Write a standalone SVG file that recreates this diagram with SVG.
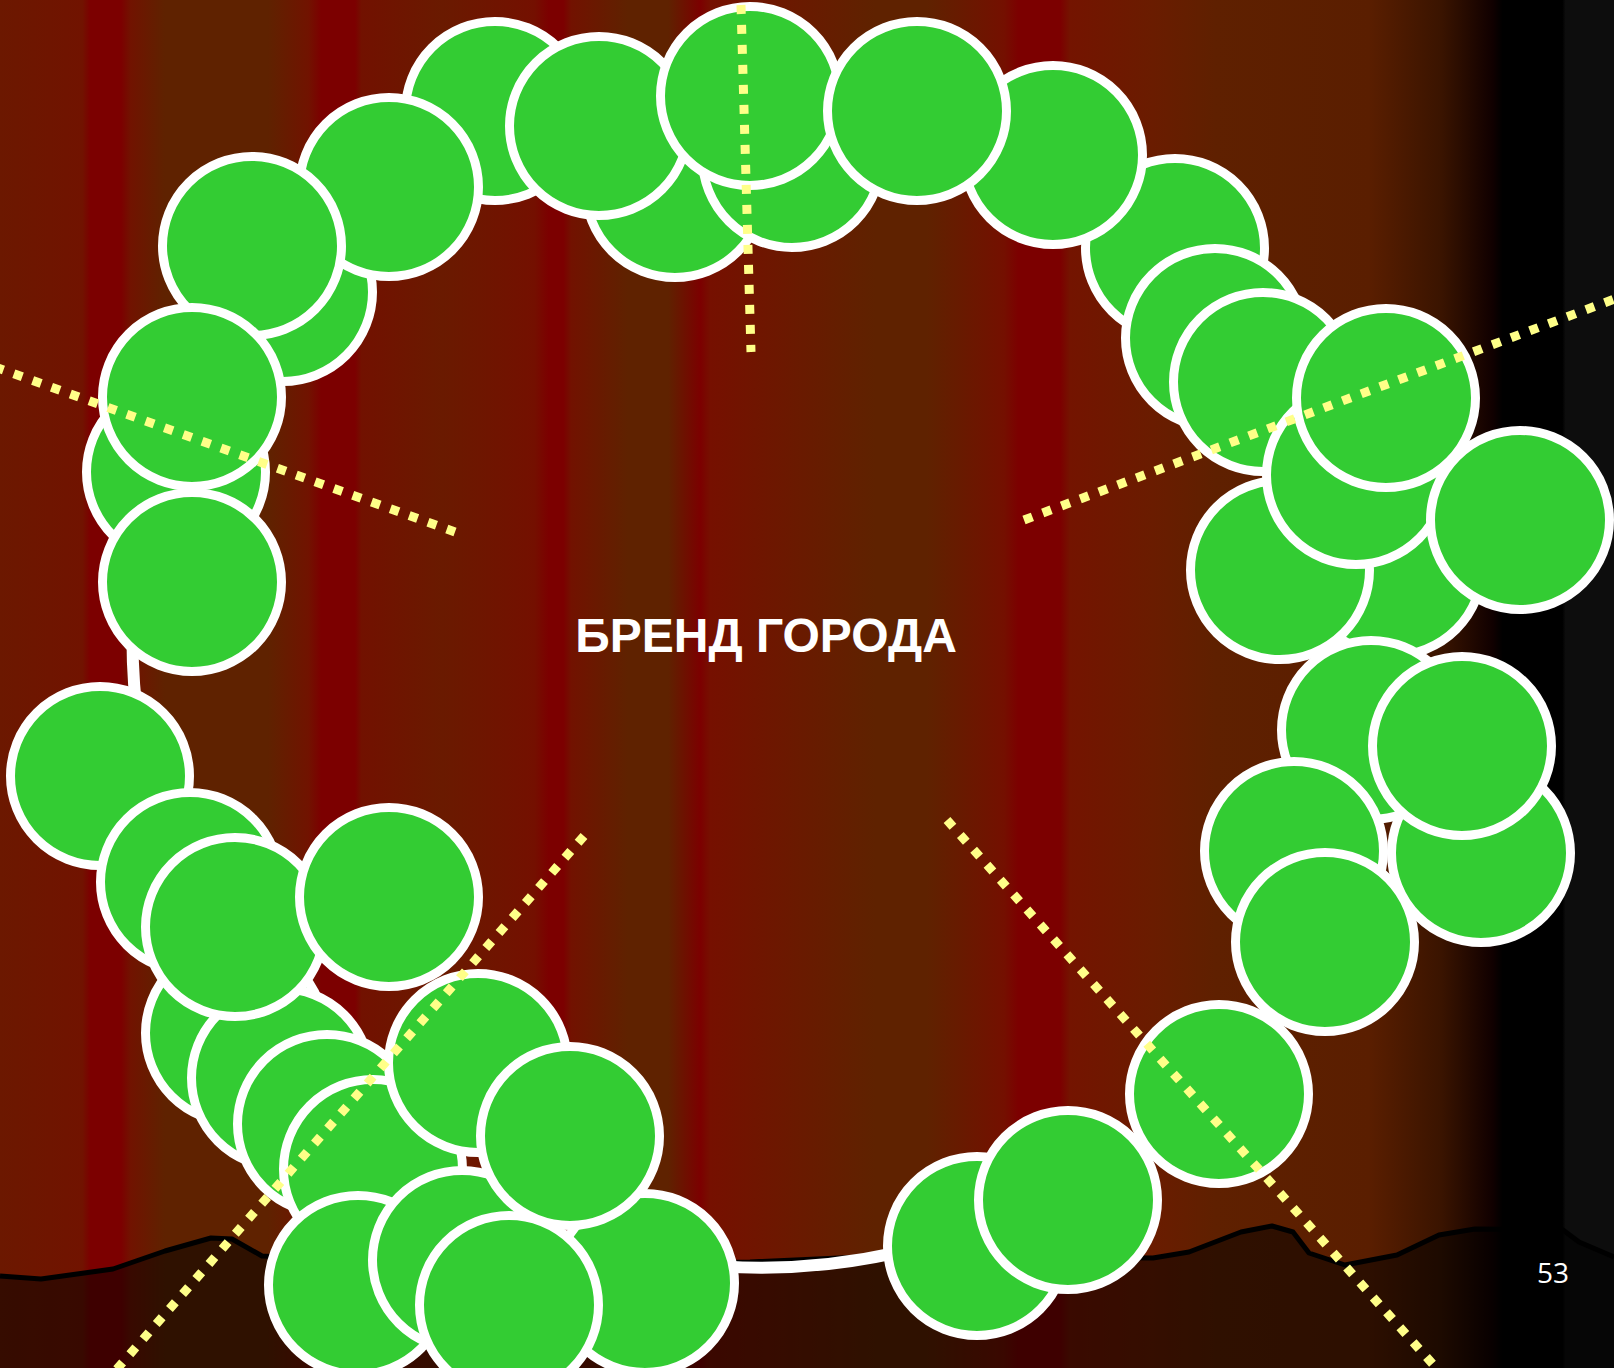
<svg xmlns="http://www.w3.org/2000/svg" width="1614" height="1368" viewBox="0 0 1614 1368">
<defs>
<linearGradient id="bg" x1="0" y1="0" x2="1614" y2="0" gradientUnits="userSpaceOnUse">
<stop offset="0" stop-color="#6c1800"/>
<stop offset="0.051" stop-color="#711300"/>
<stop offset="0.056" stop-color="#7c0000"/>
<stop offset="0.075" stop-color="#7c0000"/>
<stop offset="0.081" stop-color="#711300"/>
<stop offset="0.102" stop-color="#5f2200"/>
<stop offset="0.166" stop-color="#5f2200"/>
<stop offset="0.191" stop-color="#711300"/>
<stop offset="0.199" stop-color="#7c0000"/>
<stop offset="0.220" stop-color="#7c0000"/>
<stop offset="0.224" stop-color="#721100"/>
<stop offset="0.274" stop-color="#6a1a00"/>
<stop offset="0.331" stop-color="#741000"/>
<stop offset="0.340" stop-color="#7c0000"/>
<stop offset="0.349" stop-color="#7c0000"/>
<stop offset="0.354" stop-color="#721200"/>
<stop offset="0.389" stop-color="#5f2200"/>
<stop offset="0.414" stop-color="#5f2200"/>
<stop offset="0.434" stop-color="#7c0000"/>
<stop offset="0.440" stop-color="#761000"/>
<stop offset="0.485" stop-color="#6c1800"/>
<stop offset="0.542" stop-color="#5f2200"/>
<stop offset="0.574" stop-color="#5f2200"/>
<stop offset="0.622" stop-color="#741000"/>
<stop offset="0.631" stop-color="#7c0000"/>
<stop offset="0.657" stop-color="#7c0000"/>
<stop offset="0.663" stop-color="#741400"/>
<stop offset="0.714" stop-color="#6a1c00"/>
<stop offset="0.753" stop-color="#5f2000"/>
<stop offset="0.848" stop-color="#5a1e00"/>
<stop offset="0.893" stop-color="#3a1400"/>
<stop offset="0.925" stop-color="#100000"/>
<stop offset="0.931" stop-color="#000000"/>
<stop offset="0.968" stop-color="#000000"/>
<stop offset="0.970" stop-color="#0d0d0d"/>
<stop offset="1" stop-color="#0d0d0d"/>
</linearGradient>
<style>
.c{fill:#33cc33;stroke:#ffffff;stroke-width:9}
.dot{fill:none;stroke:#ffff88;stroke-width:9;stroke-dasharray:9 11}
.lbl{font-family:"Liberation Sans",Arial,sans-serif;font-weight:bold;fill:#ffffff}
.num{font-family:"Open Sans","Liberation Sans",sans-serif;fill:#ffffff}
</style>
</defs>
<g id="background">
<rect x="0" y="0" width="1614" height="1368" fill="url(#bg)"/>
<path id="ground" d="M0,1276 L41,1279 L113,1269 L165,1251 L211,1238 L232,1239 L262,1256 L500,1264 L750,1262 L883,1256 L1153,1258 L1189,1252 L1241,1232 L1272,1226 L1293,1232 L1309,1253 L1345,1265 L1397,1255 L1439,1235 L1475,1229 L1563,1230 L1579,1242 L1614,1257 L1614,1368 L0,1368 Z" fill="#000000" fill-opacity="0.5"/>
<path d="M0,1276 L41,1279 L113,1269 L165,1251 L211,1238 L232,1239 L262,1256 L500,1264 L750,1262 L883,1256 L1153,1258 L1189,1252 L1241,1232 L1272,1226 L1293,1232 L1309,1253 L1345,1265 L1397,1255 L1439,1235 L1475,1229 L1563,1230 L1579,1242 L1614,1257" fill="none" stroke="#000000" stroke-width="5" stroke-linejoin="round"/>
</g>
<g id="ring">
<path d="M142,531 A628,628 0 0 0 1241,1044" fill="none" stroke="#ffffff" stroke-width="12"/>
</g>
<g id="circles">
<circle id="A" class="c" cx="495" cy="111" r="89.5"/>
<circle id="C" class="c" cx="283" cy="292" r="89.5"/>
<circle id="B" class="c" cx="389" cy="187" r="89.5"/>
<circle id="D" class="c" cx="252" cy="246" r="89.5"/>
<circle id="T" class="c" cx="176" cy="472" r="89.5"/>
<circle id="S" class="c" cx="192" cy="397" r="89.5"/>
<circle id="U" class="c" cx="192" cy="582" r="89.5"/>
<circle id="F" class="c" cx="675" cy="188" r="89.5"/>
<circle id="E" class="c" cx="599" cy="126" r="89.5"/>
<circle id="G" class="c" cx="792" cy="158" r="89.5"/>
<circle id="H" class="c" cx="750" cy="96" r="89.5"/>
<circle id="K" class="c" cx="1175" cy="248" r="89.5"/>
<circle id="J" class="c" cx="1053" cy="155" r="89.5"/>
<circle id="I" class="c" cx="917" cy="111" r="89.5"/>
<circle id="L" class="c" cx="1215" cy="338" r="89.5"/>
<circle id="M" class="c" cx="1263" cy="382" r="89.5"/>
<circle id="Q" class="c" cx="1393" cy="566" r="89.5"/>
<circle id="P" class="c" cx="1280" cy="570" r="89.5"/>
<circle id="O" class="c" cx="1356" cy="475" r="89.5"/>
<circle id="N" class="c" cx="1386" cy="398" r="89.5"/>
<circle id="R" class="c" cx="1520" cy="520" r="89.5"/>
<circle id="V" class="c" cx="1371" cy="730" r="89.5"/>
<circle id="Y" class="c" cx="1481" cy="853" r="89.5"/>
<circle id="W" class="c" cx="1462" cy="746" r="89.5"/>
<circle id="X" class="c" cx="1294" cy="851" r="89.5"/>
<circle id="Z" class="c" cx="1325" cy="942" r="89.5"/>
<circle id="AA" class="c" cx="1219" cy="1094" r="89.5"/>
<circle id="CC" class="c" cx="977" cy="1246" r="89.5"/>
<circle id="BB" class="c" cx="1068" cy="1200" r="89.5"/>
<circle id="DD" class="c" cx="100" cy="776" r="89.5"/>
<circle id="EE" class="c" cx="190" cy="882" r="89.5"/>
<circle id="HH" class="c" cx="235" cy="1033" r="89.5"/>
<circle id="II" class="c" cx="281" cy="1078" r="89.5"/>
<circle id="FF" class="c" cx="235" cy="927" r="89.5"/>
<circle id="GG" class="c" cx="389" cy="897" r="89.5"/>
<circle id="JJ" class="c" cx="327" cy="1124" r="89.5"/>
<circle id="KK" class="c" cx="373" cy="1169" r="89.5"/>
<circle id="LL" class="c" cx="478" cy="1063" r="89.5"/>
<circle id="NN" class="c" cx="358" cy="1285" r="89.5"/>
<circle id="OO" class="c" cx="462" cy="1260" r="89.5"/>
<circle id="QQ" class="c" cx="645" cy="1283" r="89.5"/>
<circle id="MM" class="c" cx="570" cy="1136" r="89.5"/>
<circle id="PP" class="c" cx="509" cy="1305" r="89.5"/>
</g>
<g id="connectors">
<line class="dot" x1="741" y1="5" x2="751" y2="352"/>
<line class="dot" x1="-5" y1="367" x2="455" y2="532"/>
<line class="dot" x1="1024" y1="520" x2="1620" y2="297"/>
<line class="dot" x1="584" y1="836" x2="116" y2="1370"/>
<line class="dot" x1="947" y1="820" x2="1438" y2="1370"/>
</g>
<g id="title">
<text class="lbl" x="766" y="652" font-size="48" text-anchor="middle">БРЕНД ГОРОДА</text>
</g>
<g id="page-number">
<text class="num" x="1537" y="1283" font-size="28">53</text>
</g>
</svg>
